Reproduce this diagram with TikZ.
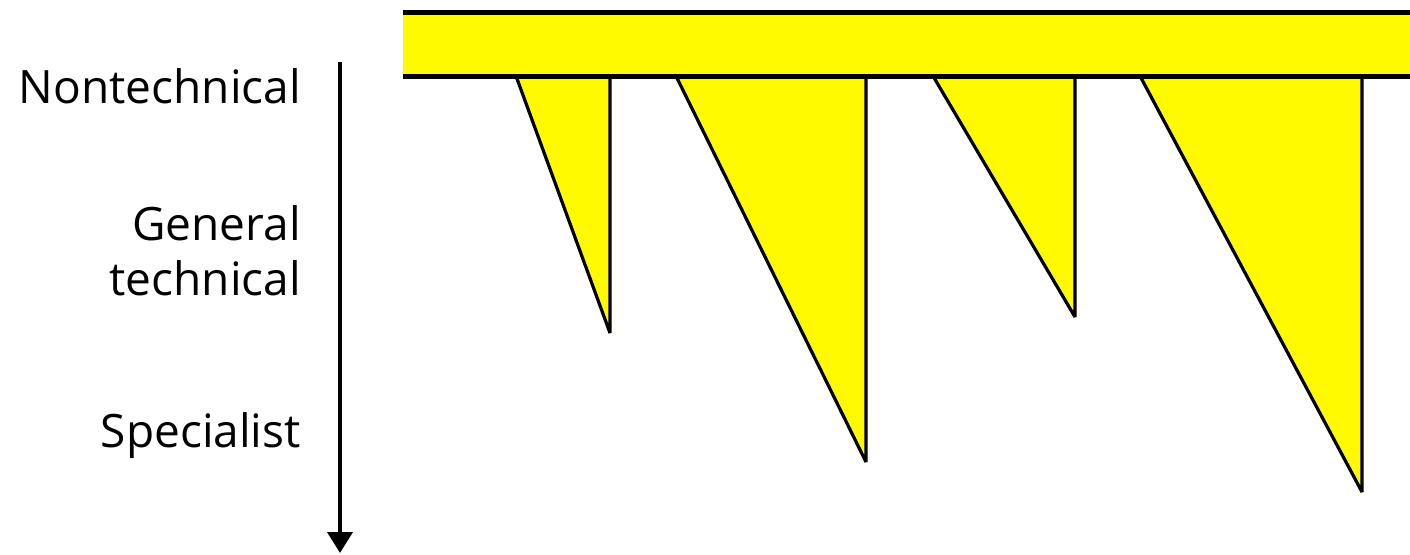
\documentclass[tikz,border=0pt]{standalone}
\usepackage{fontspec}
\setmainfont{Open Sans}
\usetikzlibrary{arrows.meta}
\definecolor{barYellow}{RGB}{255,250,0}
\tikzset{
  spike/.style={fill=barYellow,draw=black,line width=3.2pt,line join=bevel},
  edgeline/.style={draw=black,line width=5pt},
  lbl/.style={anchor=base east,inner sep=0pt,font=\fontsize{46}{55}\selectfont,align=right},
}
\begin{document}
\begin{tikzpicture}[x=1pt,y=-1pt]
\useasboundingbox (0,0) rectangle (1410,554);
% spikes
\draw[spike] (516,76) -- (610,333) -- (610,76);
\draw[spike] (676,76) -- (866,462) -- (866,76);
\draw[spike] (933,76) -- (1075,317) -- (1075,76);
\draw[spike] (1140,76) -- (1362,492) -- (1362,76);
% bar
\fill[barYellow] (403,12.5) rectangle (1410,76);
\draw[edgeline] (403,12.5) -- (1410,12.5);
\draw[edgeline] (403,76) -- (1410,76);
% arrow
\coordinate (atop) at (340,62);
\coordinate (abot) at (340,553);
\draw[line width=4pt,-{Triangle[length=21pt,width=25pt]}] (atop) -- (abot);
% labels
\node[lbl] (nt) at (301,103) {Nontechnical};
\node[lbl] (gt) at (301,295) {General\\technical};
\node[lbl] (sp) at (301,447) {Specialist};
\end{tikzpicture}
\end{document}
